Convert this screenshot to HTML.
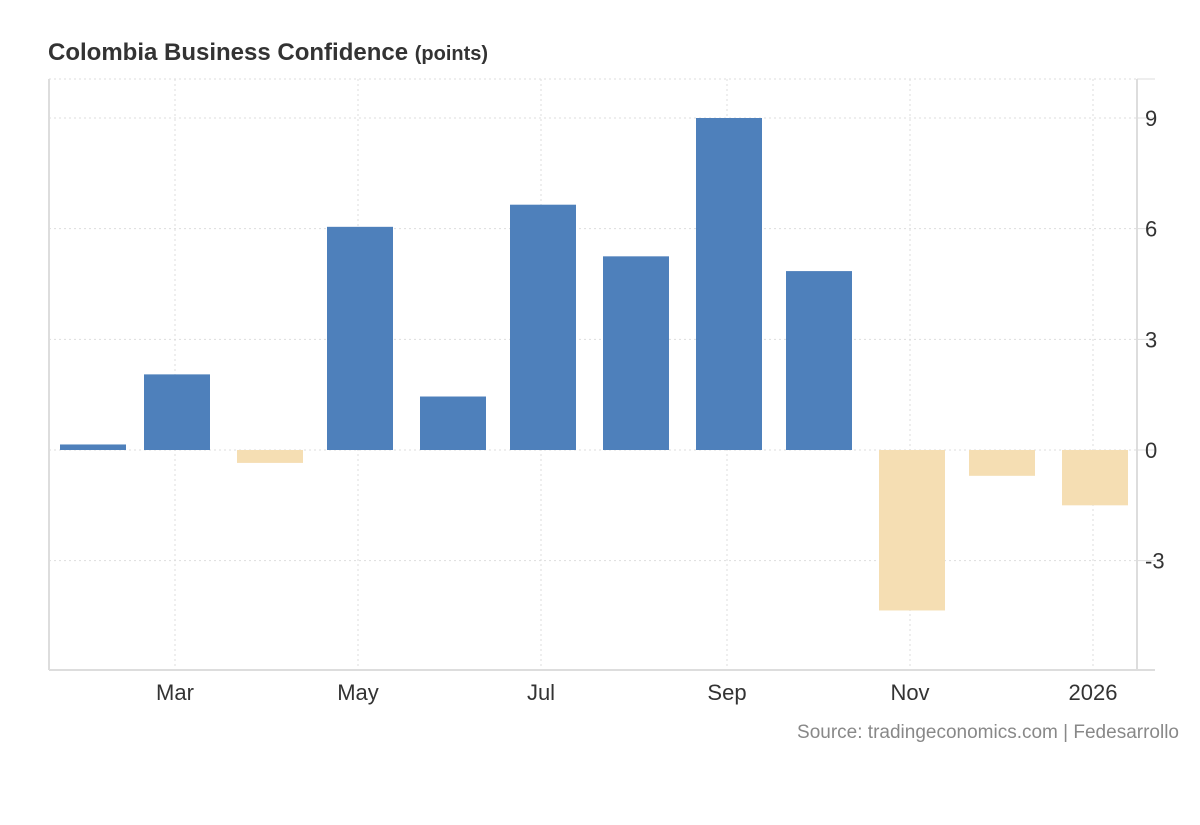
<!DOCTYPE html>
<html><head><meta charset="utf-8"><style>
body{margin:0;background:#fff;width:1200px;height:820px;overflow:hidden;font-family:"Liberation Sans",Arial,sans-serif}
</style></head><body>
<svg id="chart" width="1200" height="820" xmlns="http://www.w3.org/2000/svg">
<text x="48" y="60" font-size="24" font-weight="bold" fill="#333">Colombia Business Confidence <tspan font-size="20">(points)</tspan></text>
<text x="1179" y="738" font-size="19" fill="#888" text-anchor="end">Source: tradingeconomics.com | Fedesarrollo</text>
<g id="grid"></g><g id="bars"></g><g id="axes"></g>
</svg>
<script>
const months = ["2025-02-01","2025-03-01","2025-04-01","2025-05-01","2025-06-01","2025-07-01","2025-08-01","2025-09-01","2025-10-01","2025-11-01","2025-12-01","2026-01-01"];
const values = [0.15,2.05,-0.35,6.05,1.45,6.65,5.25,9.0,4.85,-4.35,-0.7,-1.5];
const yTicks = [9,6,3,0,-3];
const xTickDates = ["2025-03-01","2025-05-01","2025-07-01","2025-09-01","2025-11-01","2026-01-01"];
const xTickLabels = ["Mar","May","Jul","Sep","Nov","2026"];

const NS="http://www.w3.org/2000/svg";
const base=Date.UTC(2025,0,1);
function x(d){const t=Date.parse(d+"T00:00:00Z");return 3*(t-base)/86400000;}
function y(v){return 450-v*(332/9);}
function mk(tag,attrs,parent){const e=document.createElementNS(NS,tag);for(const k in attrs)e.setAttribute(k,attrs[k]);document.getElementById(parent).appendChild(e);return e;}
const L=49,R=1137,T=79,B=670;
mk("line",{x1:L,x2:R,y1:T,y2:T,stroke:"#ddd","stroke-dasharray":"2,3"},"grid");
yTicks.forEach(v=>{const g=mk("line",{x1:L,x2:R,y1:y(v),y2:y(v),stroke:"#ddd","stroke-dasharray":"2,3"},"grid");

});
xTickDates.forEach(d=>{const g=mk("line",{x1:x(d)-2,x2:x(d)-2,y1:T,y2:B,stroke:"#ddd","stroke-dasharray":"2,3"},"grid");

});
months.forEach((m,i)=>{const v=values[i];const y0=y(0),y1=y(v);
const r=mk("rect",{x:x(m)-33,width:66,y:Math.min(y0,y1),height:Math.abs(y1-y0),fill:v>=0?"#4e80bb":"#f5deb3"},"bars");

});
mk("line",{x1:L,x2:L,y1:T,y2:B,stroke:"#ddd","stroke-width":2},"axes");
mk("line",{x1:R,x2:R,y1:T,y2:B,stroke:"#ddd","stroke-width":2},"axes");
mk("line",{x1:L,x2:R+18,y1:B,y2:B,stroke:"#ddd","stroke-width":2},"axes");
mk("line",{x1:R,x2:R+18,y1:T,y2:T,stroke:"#ddd","stroke-width":1},"axes");
yTicks.forEach(v=>{mk("line",{x1:R,x2:R+18,y1:y(v),y2:y(v),stroke:"#ddd"},"axes");
const t=mk("text",{x:1145,y:y(v)+8,"font-size":22,fill:"#333"},"axes");t.textContent=v;

});
xTickDates.forEach((d,i)=>{const t=mk("text",{x:x(d)-2,y:700,"font-size":22,fill:"#333","text-anchor":"middle"},"axes");t.textContent=xTickLabels[i];

});
</script>
</body></html>
